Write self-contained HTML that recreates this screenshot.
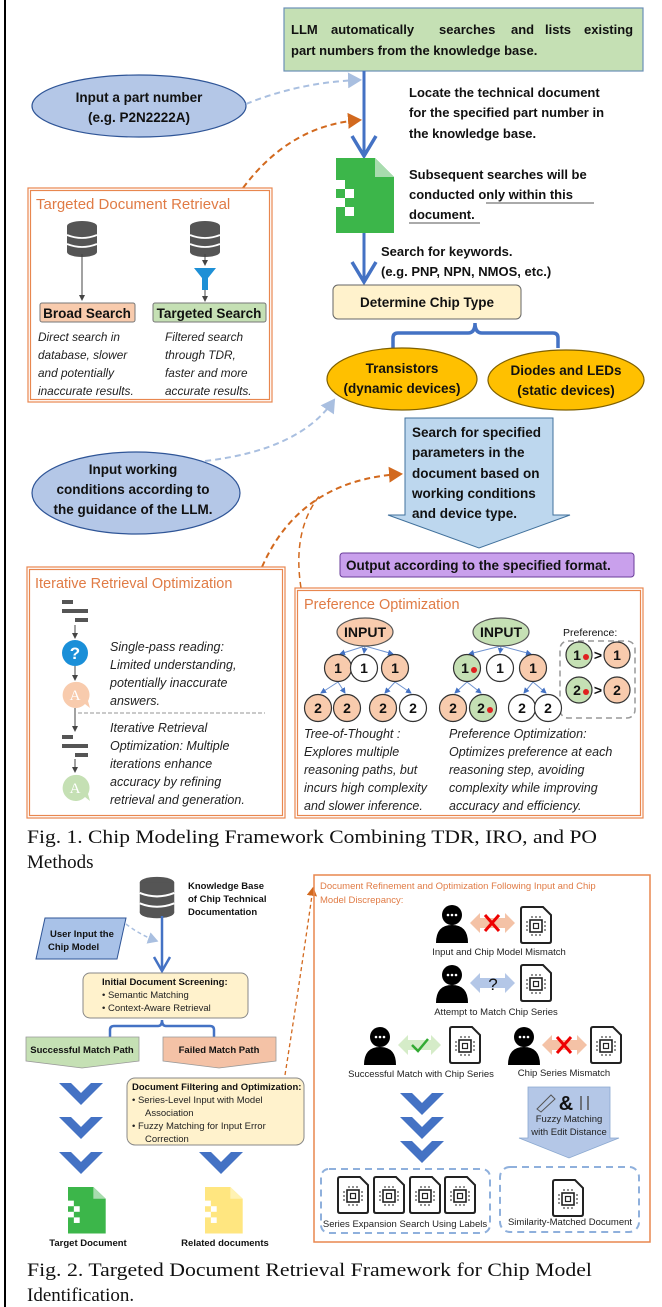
<!DOCTYPE html>
<html><head><meta charset="utf-8"><style>
html,body{margin:0;padding:0;background:#fff}
svg{display:block}
.b{font-family:"Liberation Sans",sans-serif;font-weight:bold;fill:#111}
.i{font-family:"Liberation Sans",sans-serif;font-style:italic;fill:#222}
.t{font-family:"Liberation Sans",sans-serif;fill:#e07b45}
.s{font-family:"Liberation Serif",serif;fill:#111}
</style></head><body>
<svg width="662" height="1307" viewBox="0 0 662 1307" xmlns="http://www.w3.org/2000/svg">
<defs>
<marker id="ab" markerWidth="8" markerHeight="8" refX="6" refY="4" orient="auto"><path d="M0,0 L7,4 L0,8 Z" fill="#a9bfe0"/></marker>
<marker id="ao" markerWidth="8" markerHeight="8" refX="6" refY="4" orient="auto"><path d="M0,0 L7,4 L0,8 Z" fill="#d2691e"/></marker>
<marker id="ak" markerWidth="6" markerHeight="6" refX="5" refY="3" orient="auto"><path d="M0,0 L6,3 L0,6 Z" fill="#444"/></marker>
<marker id="au" markerWidth="6" markerHeight="6" refX="5" refY="3" orient="auto"><path d="M0,0 L6,3 L0,6 Z" fill="#4472c4"/></marker>
<g id="gdoc"><path d="M0 0 H39 L58 19 V75 H0 Z" fill="#3cb64a"/><path d="M39 0 V19 H58 Z" fill="#a8dcae"/><rect x="0" y="22" width="9" height="9" fill="#fff"/><rect x="9" y="31" width="9" height="9" fill="#fff"/><rect x="0" y="40" width="9" height="9" fill="#fff"/><rect x="9" y="49" width="9" height="9" fill="#fff"/></g>
<g id="chev"><path d="M-22 0 L-10 0 L0 10 L10 0 L22 0 L0 22 Z" fill="#4472c4"/></g>
<g id="db"><ellipse cx="0" cy="4" rx="15" ry="5" fill="#555"/><rect x="-15" y="4" width="30" height="26" fill="#555"/><ellipse cx="0" cy="30" rx="15" ry="5" fill="#555"/><path d="M-15 13 Q0 19 15 13 M-15 22 Q0 28 15 22" stroke="#fff" stroke-width="1.8" fill="none"/></g>
<g id="person"><circle cx="0" cy="-8" r="10" fill="#000"/><path d="M-16 20 Q-16 2 0 2 Q16 2 16 20 Z" fill="#000"/><circle cx="-4" cy="-8" r="1.3" fill="#fff"/><circle cx="0" cy="-8" r="1.3" fill="#fff"/><circle cx="4" cy="-8" r="1.3" fill="#fff"/></g>
<g id="cdoc"><path d="M0 2 Q0 0 2 0 H22 L30 8 V34 Q30 36 28 36 H2 Q0 36 0 34 Z" fill="#fff" stroke="#222" stroke-width="2"/><rect x="9" y="13" width="12" height="12" fill="none" stroke="#222" stroke-width="1.6"/><rect x="12.5" y="16.5" width="5" height="5" fill="none" stroke="#222" stroke-width="1.2"/><path d="M11 11 v-2 M15 11 v-2 M19 11 v-2 M11 27 v2 M15 27 v2 M19 27 v2 M7 15 h-2 M7 19 h-2 M7 23 h-2 M23 15 h2 M23 19 h2 M23 23 h2" stroke="#222" stroke-width="1"/></g>
</defs>

<rect x="4" y="0" width="2" height="1307" fill="#000"/>

<rect x="284" y="8" width="359" height="63" fill="#c5e0b4" stroke="#6b8fb7" stroke-width="1.2"/>
<g class="b" font-size="13">
<text x="291" y="34">LLM</text><text x="331" y="34">automatically</text><text x="439" y="34">searches</text><text x="511" y="34">and</text><text x="545" y="34">lists</text><text x="584" y="34">existing</text>
</g>
<text class="b" font-size="13" x="291" y="55">part numbers from the knowledge base.</text>

<ellipse cx="139" cy="106" rx="107" ry="31" fill="#b4c7e7" stroke="#2f5597" stroke-width="1.2"/>
<text class="b" font-size="13.5" x="139" y="102" text-anchor="middle">Input a part number</text>
<text class="b" font-size="13.5" x="139" y="122" text-anchor="middle">(e.g. P2N2222A)</text>

<path d="M246 104 Q300 82 360 80" stroke="#a9bfe0" stroke-width="2" stroke-dasharray="6,4" fill="none" marker-end="url(#ab)"/>
<path d="M243 188 Q290 125 360 120" stroke="#d2691e" stroke-width="2" stroke-dasharray="6,4" fill="none" marker-end="url(#ao)"/>

<line x1="364" y1="71" x2="364" y2="156" stroke="#4472c4" stroke-width="3"/>
<path d="M352 136 L364 156 L376 136" stroke="#4472c4" stroke-width="3.5" fill="none"/>
<use href="#gdoc" x="336" y="158"/>
<line x1="364" y1="233" x2="364" y2="281" stroke="#4472c4" stroke-width="3"/>
<path d="M352 262 L364 282 L376 262" stroke="#4472c4" stroke-width="3.5" fill="none"/>

<text class="b" font-size="13" x="409" y="97">Locate the technical document</text>
<text class="b" font-size="13" x="409" y="117">for the specified part number in</text>
<text class="b" font-size="13" x="409" y="138">the knowledge base.</text>
<text class="b" font-size="13" x="409" y="179">Subsequent searches will be</text>
<text class="b" font-size="13" x="409" y="199">conducted <tspan>only within this</tspan></text>
<line x1="486" y1="203" x2="594" y2="203" stroke="#555" stroke-width="1"/>
<text class="b" font-size="13" x="409" y="219">document.</text>
<line x1="409" y1="223" x2="480" y2="223" stroke="#555" stroke-width="1"/>
<text class="b" font-size="13" x="381" y="256">Search for keywords.</text>
<text class="b" font-size="13" x="381" y="276">(e.g. PNP, NPN, NMOS, etc.)</text>

<rect x="333" y="285" width="188" height="34" rx="5" fill="#fff2cc" stroke="#666" stroke-width="1"/>
<text class="b" font-size="13.5" x="427" y="307" text-anchor="middle">Determine Chip Type</text>
<path d="M393 348 V338 Q393 333 398 333 H468 Q475 333 475 323 Q475 333 482 333 H553 Q558 333 558 338 V348" stroke="#4472c4" stroke-width="3.5" fill="none"/>
<ellipse cx="402" cy="379" rx="75" ry="31" fill="#ffc000" stroke="#7f6000" stroke-width="1.2"/>
<text class="b" font-size="13.5" x="402" y="373" text-anchor="middle">Transistors</text>
<text class="b" font-size="13.5" x="402" y="393" text-anchor="middle">(dynamic devices)</text>
<ellipse cx="566" cy="380" rx="78" ry="30" fill="#ffc000" stroke="#7f6000" stroke-width="1.2"/>
<text class="b" font-size="13.5" x="566" y="375" text-anchor="middle">Diodes and LEDs</text>
<text class="b" font-size="13.5" x="566" y="395" text-anchor="middle">(static devices)</text>

<rect x="28" y="188" width="244" height="214" fill="#fff" stroke="#e8874f" stroke-width="1.2"/>
<rect x="30.5" y="190.5" width="239" height="209" fill="none" stroke="#e8874f" stroke-width="1.2"/>
<text class="t" font-size="15" x="36" y="209">Targeted Document Retrieval</text>
<use href="#db" x="82" y="222"/>
<use href="#db" x="205" y="222"/>
<line x1="82" y1="254" x2="82" y2="300" stroke="#444" stroke-width="1" marker-end="url(#ak)"/>
<line x1="205" y1="254" x2="205" y2="265" stroke="#444" stroke-width="1" marker-end="url(#ak)"/>
<path d="M194 268 H216 L208 278 V290 H202 V278 Z" fill="#1e90d6"/>
<line x1="205" y1="290" x2="205" y2="301" stroke="#444" stroke-width="1" marker-end="url(#ak)"/>
<rect x="40" y="303" width="95" height="19" rx="2" fill="#f8cbad" stroke="#777" stroke-width="1"/>
<text class="b" font-size="13.5" x="87" y="318" text-anchor="middle">Broad Search</text>
<rect x="153" y="303" width="113" height="19" rx="2" fill="#c5e0b4" stroke="#777" stroke-width="1"/>
<text class="b" font-size="13.5" x="209" y="318" text-anchor="middle">Targeted Search</text>
<text class="i" font-size="11.8" x="38" y="341">Direct search in</text>
<text class="i" font-size="11.8" x="38" y="359">database, slower</text>
<text class="i" font-size="11.8" x="38" y="377">and potentially</text>
<text class="i" font-size="11.8" x="38" y="395">inaccurate results.</text>
<text class="i" font-size="11.8" x="165" y="341">Filtered search</text>
<text class="i" font-size="11.8" x="165" y="359">through TDR,</text>
<text class="i" font-size="11.8" x="165" y="377">faster and more</text>
<text class="i" font-size="11.8" x="165" y="395">accurate results.</text>

<ellipse cx="136" cy="493" rx="104" ry="41" fill="#b4c7e7" stroke="#2f5597" stroke-width="1.2"/>
<text class="b" font-size="13.5" x="133" y="474" text-anchor="middle">Input working</text>
<text class="b" font-size="13.5" x="133" y="494" text-anchor="middle">conditions according to</text>
<text class="b" font-size="13.5" x="133" y="514" text-anchor="middle">the guidance of the LLM.</text>
<path d="M205 461 Q300 450 334 400" stroke="#a9bfe0" stroke-width="2" stroke-dasharray="6,4" fill="none" marker-end="url(#ab)"/>

<path d="M405 418 H553 V515 H570 L479 548 L388 515 H405 Z" fill="#bdd7ee" stroke="#41719c" stroke-width="1"/>
<text class="b" font-size="13.5" x="412" y="437">Search for specified</text>
<text class="b" font-size="13.5" x="412" y="457">parameters in the</text>
<text class="b" font-size="13.5" x="412" y="478">document based on</text>
<text class="b" font-size="13.5" x="412" y="498">working conditions</text>
<text class="b" font-size="13.5" x="412" y="518">and device type.</text>
<rect x="340" y="553" width="294" height="24" rx="3" fill="#c9a0ec" stroke="#6a3d9a" stroke-width="1"/>
<text class="b" font-size="13.5" x="346" y="570">Output according to the specified format.</text>

<path d="M262 567 Q300 480 401 474" stroke="#d2691e" stroke-width="2" stroke-dasharray="6,4" fill="none" marker-end="url(#ao)"/>
<path d="M301 588 Q292 530 320 495" stroke="#d2691e" stroke-width="1.5" stroke-dasharray="6,4" fill="none"/>

<rect x="27" y="567" width="258" height="251" fill="#fff" stroke="#e8874f" stroke-width="1.2"/>
<rect x="29.5" y="569.5" width="253" height="246" fill="none" stroke="#e8874f" stroke-width="1.2"/>
<text class="t" font-size="14.5" x="35" y="588">Iterative Retrieval Optimization</text>
<rect x="62" y="600" width="11" height="4" fill="#555"/><rect x="62" y="609" width="26" height="4" fill="#555"/><rect x="75" y="618" width="13" height="4" fill="#555"/>
<line x1="75" y1="625" x2="75" y2="638" stroke="#444" stroke-width="1" marker-end="url(#ak)"/>
<circle cx="75" cy="653" r="13" fill="#1a8fd8"/><text font-family="Liberation Sans,sans-serif" font-weight="bold" font-size="17" fill="#fff" x="75" y="659" text-anchor="middle">?</text>
<line x1="75" y1="666" x2="75" y2="680" stroke="#444" stroke-width="1" marker-end="url(#ak)"/>
<path d="M75 682 a13 13 0 1 0 10 22 l5 4 l-2 -7 a13 13 0 0 0 -13 -19 z" fill="#f8cbad"/><text font-family="Liberation Serif,serif" font-size="15" fill="#fff" x="75" y="700" text-anchor="middle">A</text>
<line x1="75" y1="708" x2="75" y2="731" stroke="#444" stroke-width="1" marker-end="url(#ak)"/>
<line x1="78" y1="713" x2="265" y2="713" stroke="#aaa" stroke-width="1.2" stroke-dasharray="4,2"/>
<rect x="62" y="735" width="11" height="4" fill="#555"/><rect x="62" y="744" width="26" height="4" fill="#555"/><rect x="75" y="753" width="13" height="4" fill="#555"/>
<line x1="75" y1="759" x2="75" y2="772" stroke="#444" stroke-width="1" marker-end="url(#ak)"/>
<path d="M75 775 a13 13 0 1 0 10 22 l5 4 l-2 -7 a13 13 0 0 0 -13 -19 z" fill="#c5e0b4"/><text font-family="Liberation Serif,serif" font-size="15" fill="#fff" x="75" y="793" text-anchor="middle">A</text>
<text class="i" font-size="12.5" x="110" y="651">Single-pass reading:</text>
<text class="i" font-size="12.5" x="110" y="669">Limited understanding,</text>
<text class="i" font-size="12.5" x="110" y="687">potentially inaccurate</text>
<text class="i" font-size="12.5" x="110" y="705">answers.</text>
<text class="i" font-size="12.5" x="110" y="732">Iterative Retrieval</text>
<text class="i" font-size="12.5" x="110" y="750">Optimization: Multiple</text>
<text class="i" font-size="12.5" x="110" y="768">iterations enhance</text>
<text class="i" font-size="12.5" x="110" y="786">accuracy by refining</text>
<text class="i" font-size="12.5" x="110" y="804">retrieval and generation.</text>

<rect x="295" y="588" width="348" height="230" fill="#fff" stroke="#e8874f" stroke-width="1.2"/>
<rect x="297.5" y="590.5" width="343" height="225" fill="none" stroke="#e8874f" stroke-width="1.2"/>
<text class="t" font-size="14.5" x="304" y="609">Preference Optimization</text>
<g stroke="#6f93d0" stroke-width="1" marker-end="url(#au)">
<line x1="365" y1="646" x2="340" y2="654"/><line x1="365" y1="646" x2="364" y2="653"/><line x1="365" y1="646" x2="393" y2="654"/>
<line x1="338" y1="682" x2="321" y2="693"/><line x1="338" y1="682" x2="345" y2="693"/><line x1="395" y1="682" x2="385" y2="693"/><line x1="395" y1="682" x2="411" y2="693"/>
<line x1="501" y1="646" x2="469" y2="654"/><line x1="501" y1="646" x2="500" y2="653"/><line x1="501" y1="646" x2="531" y2="654"/>
<line x1="467" y1="682" x2="455" y2="693"/><line x1="467" y1="682" x2="481" y2="693"/><line x1="533" y1="682" x2="524" y2="693"/><line x1="533" y1="682" x2="546" y2="693"/>
</g>
<ellipse cx="365" cy="632" rx="28" ry="14" fill="#f8cbad" stroke="#555" stroke-width="1.2"/>
<text class="b" font-size="14" x="365" y="637" text-anchor="middle">INPUT</text>
<ellipse cx="501" cy="632" rx="28" ry="14" fill="#c5e0b4" stroke="#555" stroke-width="1.2"/>
<text class="b" font-size="14" x="501" y="637" text-anchor="middle">INPUT</text>
<text class="b" font-size="10.5" x="563" y="636" fill="#333" style="font-weight:normal">Preference:</text>
<rect x="560" y="641" width="75" height="77" rx="8" fill="none" stroke="#999" stroke-width="1.5" stroke-dasharray="6,4"/>
<g stroke="#333" stroke-width="1.2">
<circle cx="338" cy="668" r="13.5" fill="#f8cbad"/><circle cx="364" cy="668" r="13.5" fill="#fff"/><circle cx="395" cy="668" r="13.5" fill="#f8cbad"/>
<circle cx="467" cy="668" r="13.5" fill="#c5e0b4"/><circle cx="500" cy="668" r="13.5" fill="#fff"/><circle cx="533" cy="668" r="13.5" fill="#f8cbad"/>
<circle cx="318" cy="708" r="13.5" fill="#f8cbad"/><circle cx="347" cy="708" r="13.5" fill="#f8cbad"/><circle cx="383" cy="708" r="13.5" fill="#f8cbad"/><circle cx="413" cy="708" r="13.5" fill="#fff"/>
<circle cx="453" cy="708" r="13.5" fill="#f8cbad"/><circle cx="483" cy="708" r="13.5" fill="#c5e0b4"/><circle cx="522" cy="708" r="13.5" fill="#fff"/><circle cx="548" cy="708" r="13.5" fill="#fff"/>
<circle cx="579" cy="655" r="13" fill="#c5e0b4"/><circle cx="617" cy="655" r="13" fill="#f8cbad"/>
<circle cx="579" cy="690" r="13" fill="#c5e0b4"/><circle cx="617" cy="690" r="13" fill="#f8cbad"/>
</g>
<g class="b" font-size="14" text-anchor="middle">
<text x="338" y="673">1</text><text x="364" y="673">1</text><text x="395" y="673">1</text>
<text x="465" y="673">1</text><text x="500" y="673">1</text><text x="533" y="673">1</text>
<text x="318" y="713">2</text><text x="347" y="713">2</text><text x="383" y="713">2</text><text x="413" y="713">2</text>
<text x="453" y="713">2</text><text x="481" y="713">2</text><text x="522" y="713">2</text><text x="548" y="713">2</text>
<text x="577" y="660">1</text><text x="617" y="660">1</text><text x="577" y="695">2</text><text x="617" y="695">2</text>
<text x="598" y="660">&gt;</text><text x="598" y="695">&gt;</text>
</g>
<g fill="#e02020"><circle cx="474" cy="670" r="3"/><circle cx="490" cy="710" r="3"/><circle cx="586" cy="657" r="3"/><circle cx="586" cy="692" r="3"/></g>
<text class="i" font-size="12.5" x="304" y="738">Tree-of-Thought :</text>
<text class="i" font-size="12.5" x="304" y="756">Explores multiple</text>
<text class="i" font-size="12.5" x="304" y="774">reasoning paths, but</text>
<text class="i" font-size="12.5" x="304" y="792">incurs high complexity</text>
<text class="i" font-size="12.5" x="304" y="810">and slower inference.</text>
<text class="i" font-size="12.5" x="449" y="738">Preference Optimization:</text>
<text class="i" font-size="12.5" x="449" y="756">Optimizes preference at each</text>
<text class="i" font-size="12.5" x="449" y="774">reasoning step, avoiding</text>
<text class="i" font-size="12.5" x="449" y="792">complexity while improving</text>
<text class="i" font-size="12.5" x="449" y="810">accuracy and efficiency.</text>

<text class="s" font-size="19" x="27" y="843" textLength="570" lengthAdjust="spacingAndGlyphs">Fig. 1.  Chip Modeling Framework Combining TDR, IRO, and PO</text>
<text class="s" font-size="19" x="27" y="868">Methods</text>

<use href="#db" x="157" y="878" transform="translate(157 878) scale(1.15) translate(-157 -878)"/>
<text class="b" font-size="9.5" x="188" y="889">Knowledge Base</text>
<text class="b" font-size="9.5" x="188" y="902">of Chip Technical</text>
<text class="b" font-size="9.5" x="188" y="915">Documentation</text>
<path d="M45 918 H126 L117 959 H36 Z" fill="#a9c2e8" stroke="#2f5597" stroke-width="1"/>
<text class="b" font-size="9.5" x="50" y="937">User Input the</text>
<text class="b" font-size="9.5" x="48" y="950">Chip Model</text>
<path d="M126 924 Q140 935 157 941" stroke="#a9bfe0" stroke-width="1.5" stroke-dasharray="4,3" fill="none" marker-end="url(#ab)"/>
<line x1="162" y1="916" x2="162" y2="970" stroke="#4472c4" stroke-width="2.5"/>
<path d="M154 957 L162 971 L170 957" stroke="#4472c4" stroke-width="2.5" fill="none"/>
<rect x="83" y="973" width="165" height="45" rx="7" fill="#fff2cc" stroke="#888" stroke-width="1"/>
<text class="b" font-size="9.5" x="102" y="985">Initial Document Screening:</text>
<text font-family="Liberation Sans,sans-serif" font-size="9.5" fill="#222" x="102" y="998">•   Semantic Matching</text>
<text font-family="Liberation Sans,sans-serif" font-size="9.5" fill="#222" x="102" y="1011">•   Context-Aware Retrieval</text>
<path d="M110 1037 V1030 Q110 1026 114 1026 H158 Q162 1026 162 1020 Q162 1026 166 1026 H210 Q214 1026 214 1030 V1037" stroke="#4472c4" stroke-width="2.5" fill="none"/>
<path d="M26 1037 H139 V1061 L82 1068 L26 1061 Z" fill="#c5e0b4" stroke="#999" stroke-width="0.8"/>
<text class="b" font-size="9.5" x="82" y="1053" text-anchor="middle">Successful Match Path</text>
<path d="M163 1037 H276 V1061 L219 1068 L163 1061 Z" fill="#f4c2a6" stroke="#999" stroke-width="0.8"/>
<text class="b" font-size="9.5" x="219" y="1053" text-anchor="middle">Failed Match Path</text>
<use href="#chev" x="81" y="1083"/><use href="#chev" x="81" y="1117"/><use href="#chev" x="81" y="1152"/>
<use href="#chev" x="221" y="1152"/>
<rect x="127" y="1078" width="177" height="67" rx="8" fill="#fff2cc" stroke="#888" stroke-width="1"/>
<text class="b" font-size="9.5" x="132" y="1090">Document Filtering and Optimization:</text>
<g font-family="Liberation Sans,sans-serif" font-size="9.5" fill="#222">
<text x="132" y="1103">•   Series-Level Input with Model</text>
<text x="145" y="1116">Association</text>
<text x="132" y="1129">•   Fuzzy Matching for Input Error</text>
<text x="145" y="1142">Correction</text>
</g>
<use href="#gdoc" transform="translate(68 1187) scale(0.65 0.62)"/>
<g transform="translate(205 1187) scale(0.65 0.62)"><path d="M0 0 H39 L58 19 V75 H0 Z" fill="#ffe680"/><path d="M39 0 V19 H58 Z" fill="#fff2b3"/><rect x="0" y="22" width="9" height="9" fill="#fff"/><rect x="9" y="31" width="9" height="9" fill="#fff"/><rect x="0" y="40" width="9" height="9" fill="#fff"/><rect x="9" y="49" width="9" height="9" fill="#fff"/></g>
<text class="b" font-size="9.5" x="88" y="1246" text-anchor="middle">Target Document</text>
<text class="b" font-size="9.5" x="225" y="1246" text-anchor="middle">Related documents</text>
<path d="M285 1075 Q300 980 313 888" stroke="#d2691e" stroke-width="1.3" stroke-dasharray="4,3" fill="none" marker-end="url(#ao)"/>

<rect x="314" y="875" width="336" height="367" fill="none" stroke="#e8874f" stroke-width="1.5"/>
<text class="t" font-size="9.5" x="320" y="889">Document Refinement and Optimization Following Input and Chip</text>
<text class="t" font-size="9.5" x="320" y="903">Model Discrepancy:</text>
<use href="#person" x="452" y="923"/>
<path d="M470 923 L480 913 V918 H505 V913 L515 923 L505 933 V928 H480 V933 Z" fill="#f4c2a6"/>
<path d="M485 915 L499 931 M499 915 L485 931" stroke="#e00" stroke-width="3"/>
<use href="#cdoc" x="521" y="907"/>
<text font-family="Liberation Sans,sans-serif" font-size="9.5" fill="#222" x="499" y="955" text-anchor="middle">Input and Chip Model Mismatch</text>
<use href="#person" x="452" y="983"/>
<path d="M470 983 L480 973 V978 H505 V973 L515 983 L505 993 V988 H480 V993 Z" fill="#b4c7e7"/>
<text font-family="Liberation Sans,sans-serif" font-size="17" fill="#111" x="493" y="990" text-anchor="middle">?</text>
<use href="#cdoc" x="521" y="965"/>
<text font-family="Liberation Sans,sans-serif" font-size="9.5" fill="#222" x="496" y="1015" text-anchor="middle">Attempt to Match Chip Series</text>
<use href="#person" x="380" y="1045"/>
<path d="M398 1045 L408 1035 V1040 H431 V1035 L441 1045 L431 1055 V1050 H408 V1055 Z" fill="#d5ecc8"/>
<path d="M412 1045 L418 1051 L428 1039" stroke="#3a3" stroke-width="2.5" fill="none"/>
<use href="#cdoc" x="450" y="1027"/>
<text font-family="Liberation Sans,sans-serif" font-size="9.5" fill="#222" x="421" y="1077" text-anchor="middle">Successful Match with Chip Series</text>
<use href="#person" x="524" y="1045"/>
<path d="M542 1045 L552 1035 V1040 H577 V1035 L587 1045 L577 1055 V1050 H552 V1055 Z" fill="#f4c2a6"/>
<path d="M557 1037 L571 1053 M571 1037 L557 1053" stroke="#e00" stroke-width="3"/>
<use href="#cdoc" x="591" y="1027"/>
<text font-family="Liberation Sans,sans-serif" font-size="9.5" fill="#222" x="564" y="1076" text-anchor="middle">Chip Series Mismatch</text>
<use href="#chev" x="422" y="1093"/><use href="#chev" x="422" y="1117"/><use href="#chev" x="422" y="1141"/>
<path d="M528 1087 H610 V1138 H619 L569 1158 L519 1138 H528 Z" fill="#b4c7e7" stroke="#8aa8d0" stroke-width="0.8"/>
<text font-family="Liberation Sans,sans-serif" font-weight="bold" font-size="20" fill="#111" x="566" y="1110" text-anchor="middle">&amp;</text>
<path d="M537 1109 L551 1095 L555 1099 L541 1112 Z" fill="none" stroke="#555" stroke-width="1"/>
<path d="M581 1096 V1110 M588 1096 V1110" stroke="#555" stroke-width="1.5"/>
<text font-family="Liberation Sans,sans-serif" font-size="9.5" fill="#222" x="569" y="1122" text-anchor="middle">Fuzzy Matching</text>
<text font-family="Liberation Sans,sans-serif" font-size="9.5" fill="#222" x="569" y="1135" text-anchor="middle">with Edit Distance</text>
<rect x="321" y="1169" width="169" height="64" rx="8" fill="none" stroke="#8fb0dc" stroke-width="2" stroke-dasharray="7,5"/>
<use href="#cdoc" x="338" y="1177"/><use href="#cdoc" x="374" y="1177"/><use href="#cdoc" x="410" y="1177"/><use href="#cdoc" x="445" y="1177"/>
<text font-family="Liberation Sans,sans-serif" font-size="9.5" fill="#222" x="405" y="1227" text-anchor="middle">Series Expansion Search Using Labels</text>
<rect x="500" y="1167" width="139" height="65" rx="10" fill="none" stroke="#8fb0dc" stroke-width="2" stroke-dasharray="7,5"/>
<use href="#cdoc" x="553" y="1180"/>
<text font-family="Liberation Sans,sans-serif" font-size="9.5" fill="#222" x="570" y="1225" text-anchor="middle">Similarity-Matched Document</text>

<text class="s" font-size="19" x="27" y="1276" textLength="565" lengthAdjust="spacingAndGlyphs">Fig. 2.   Targeted Document Retrieval Framework for Chip Model</text>
<text class="s" font-size="19" x="27" y="1301">Identification.</text>
</svg>
</body></html>
